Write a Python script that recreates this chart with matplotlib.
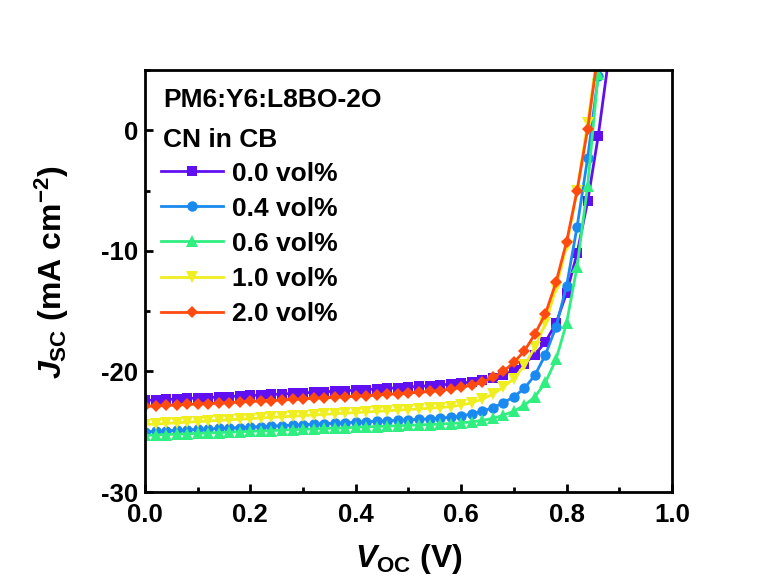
import matplotlib.pyplot as plt
from matplotlib.ticker import MultipleLocator

# measured voltage grid (V)
voltage = [0.00, 0.02, 0.04, 0.06, 0.08, 0.10, 0.12, 0.14, 0.16, 0.18,
           0.20, 0.22, 0.24, 0.26, 0.28, 0.30, 0.32, 0.34, 0.36, 0.38,
           0.40, 0.42, 0.44, 0.46, 0.48, 0.50, 0.52, 0.54, 0.56, 0.58,
           0.60, 0.62, 0.64, 0.66, 0.68, 0.70, 0.72, 0.74, 0.76, 0.78,
           0.80, 0.82, 0.84, 0.86, 0.88]

j_00 = [-22.40, -22.36, -22.32, -22.28, -22.24, -22.20, -22.16, -22.12, -22.08, -22.03,
        -21.99, -21.95, -21.91, -21.87, -21.82, -21.78, -21.73, -21.69, -21.64, -21.60,
        -21.55, -21.50, -21.45, -21.40, -21.35, -21.30, -21.24, -21.18, -21.12, -21.05,
        -20.97, -20.87, -20.72, -20.55, -20.30, -19.90, -19.35, -18.60, -17.55, -16.00,
        -13.50, -10.20, -5.90, -0.50, 6.00]
j_04 = [-25.00, -24.96, -24.92, -24.88, -24.84, -24.80, -24.77, -24.73, -24.69, -24.65,
        -24.61, -24.57, -24.53, -24.49, -24.45, -24.41, -24.37, -24.33, -24.29, -24.25,
        -24.21, -24.17, -24.13, -24.09, -24.05, -24.01, -23.97, -23.92, -23.87, -23.80,
        -23.70, -23.52, -23.30, -23.00, -22.60, -22.10, -21.40, -20.30, -18.60, -16.30,
        -12.90, -8.00, -2.30, 4.50, 11.00]
j_06 = [-25.30, -25.27, -25.23, -25.20, -25.17, -25.13, -25.10, -25.07, -25.03, -25.00,
        -24.97, -24.93, -24.90, -24.87, -24.83, -24.80, -24.77, -24.73, -24.70, -24.67,
        -24.63, -24.60, -24.57, -24.53, -24.50, -24.47, -24.43, -24.40, -24.36, -24.32,
        -24.26, -24.18, -24.06, -23.90, -23.62, -23.30, -22.80, -22.10, -20.90, -19.00,
        -16.00, -11.30, -4.60, 4.70, 14.00]
j_10 = [-24.40, -24.36, -24.31, -24.26, -24.21, -24.16, -24.11, -24.06, -24.01, -23.96,
        -23.91, -23.86, -23.81, -23.76, -23.71, -23.66, -23.61, -23.56, -23.51, -23.46,
        -23.41, -23.36, -23.31, -23.26, -23.21, -23.16, -23.11, -23.05, -22.99, -22.92,
        -22.80, -22.60, -22.30, -21.90, -21.30, -20.60, -19.50, -18.00, -16.00, -13.10,
        -9.60, -5.00, 0.60, 6.80, 13.00]
j_20 = [-22.90, -22.86, -22.82, -22.78, -22.74, -22.70, -22.66, -22.62, -22.58, -22.53,
        -22.49, -22.45, -22.41, -22.37, -22.32, -22.28, -22.23, -22.19, -22.14, -22.10,
        -22.05, -22.00, -21.95, -21.90, -21.85, -21.79, -21.73, -21.66, -21.58, -21.46,
        -21.32, -21.12, -20.88, -20.50, -20.00, -19.25, -18.30, -16.90, -15.20, -12.60,
        -9.25, -5.00, 0.10, 6.50, 13.00]

labels = ['0.0 vol%', '0.4 vol%', '0.6 vol%', '1.0 vol%', '2.0 vol%']
series = [j_00, j_04, j_06, j_10, j_20]
colors = ['#6010F0', '#1A8AF0', '#30EE80', '#EEEE20', '#FF4A10']
markers = ['s', 'o', '^', 'v', 'D']
msizes = [7.5, 7.5, 8, 8, 6.5]

plt.rcParams['font.family'] = ['Liberation Sans', 'DejaVu Sans']
plt.rcParams['font.weight'] = 'bold'
plt.rcParams['axes.unicode_minus'] = False
plt.rcParams['mathtext.fontset'] = 'custom'
plt.rcParams['mathtext.rm'] = 'Liberation Sans:bold'
plt.rcParams['mathtext.it'] = 'Liberation Sans:bold:italic'
plt.rcParams['mathtext.bf'] = 'Liberation Sans:bold'

fig = plt.figure(figsize=(7.61, 5.83), dpi=100)
ax = fig.add_axes([0.1905, 0.156, 0.6925, 0.724])

for j, lab, c, m, ms in zip(series, labels, colors, markers, msizes):
    ax.plot(voltage, j, color=c, lw=2, marker=m, ms=ms, mew=0, label=lab)

ax.set_xlim(0, 1.0)
ax.set_ylim(-30, 5)
ax.xaxis.set_major_locator(MultipleLocator(0.2))
ax.xaxis.set_minor_locator(MultipleLocator(0.1))
ax.yaxis.set_major_locator(MultipleLocator(10))
ax.yaxis.set_minor_locator(MultipleLocator(5))
ax.tick_params(which='both', direction='in', width=2, labelsize=18.5)
ax.tick_params(which='major', length=6)
ax.tick_params(which='minor', length=3.5)
ax.tick_params(axis='x', pad=8)
ax.tick_params(axis='y', pad=5)
for s in ax.spines.values():
    s.set_linewidth(2)
for t in ax.get_xticklabels() + ax.get_yticklabels():
    t.set_fontweight('bold')
ax.xaxis.set_major_formatter(plt.FuncFormatter(lambda v, p: f'{v:.1f}'))

ax.set_xlabel(r'$V_{\mathrm{OC}}$ (V)', fontsize=23, fontweight='bold', labelpad=11)
ax.set_ylabel(r'$J_{\mathrm{SC}}$ (mA cm$^{\mathrm{-2}}$)', fontsize=23, fontweight='bold')
ax.yaxis.set_label_coords(-0.14, 0.52)

ax.text(0.034, 0.93, 'PM6:Y6:L8BO-2O', transform=ax.transAxes, fontsize=19,
        fontweight='bold', va='center', ha='left')
ax.text(0.034, 0.835, 'CN in CB', transform=ax.transAxes, fontsize=19,
        fontweight='bold', va='center', ha='left')
leg = ax.legend(loc='upper left', bbox_to_anchor=(0.03, 0.783), frameon=False,
                prop={'size': 19, 'weight': 'bold'}, handlelength=2.35,
                handletextpad=0.34, labelspacing=0.42, borderpad=0, borderaxespad=0)

fig.savefig('out.png', dpi=100)
